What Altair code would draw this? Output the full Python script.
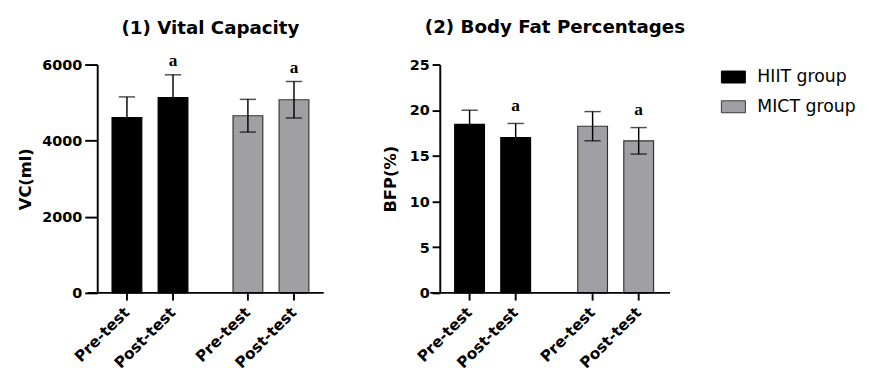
import altair as alt
import pandas as pd

groups = ["HIIT group", "HIIT group", "MICT group", "MICT group"]
tests = ["Pre-test", "Post-test", "Pre-test", "Post-test"]
vc_mean = [4610, 5130, 4655, 5075]
vc_sd = [540, 600, 430, 480]
bfp_mean = [18.45, 17.0, 18.25, 16.65]
bfp_sd = [1.55, 1.55, 1.6, 1.45]
sig = ["", "a", "", "a"]

group_order = ["HIIT group", "MICT group"]
test_order = ["Pre-test", "Post-test"]
fill_colors = ["#000000", "#a0a0a4"]
stroke_colors = ["#000000", "#333333"]

H = 238


def panel(mean, sd, title, ytitle, ymax, yticks, width, title_pad, tick_size, a_dy, t_off):
    df = pd.DataFrame({"group": groups, "test": tests, "mean": mean, "sd": sd, "sig": sig})
    df["lo"] = df["mean"] - df["sd"]
    df["hi"] = df["mean"] + df["sd"]
    base = alt.Chart(df)
    xenc = alt.X("group:N", sort=group_order,
                 scale=alt.Scale(paddingInner=0.238, paddingOuter=0.055), axis=None)
    xoff = alt.XOffset("test:N", sort=test_order,
                       scale=alt.Scale(paddingInner=0.354, paddingOuter=0.177))
    yscale = alt.Scale(domain=[0, ymax], nice=False)

    bars = base.mark_bar(strokeWidth=1.2).encode(
        x=xenc, xOffset=xoff,
        y=alt.Y("mean:Q", scale=yscale,
                axis=alt.Axis(title=ytitle, values=yticks, titlePadding=title_pad,
                              format="d", tickSize=tick_size)),
        color=alt.Color("group:N", scale=alt.Scale(domain=group_order, range=fill_colors),
                        legend=alt.Legend(title=None)),
        stroke=alt.Stroke("group:N", scale=alt.Scale(domain=group_order, range=stroke_colors),
                          legend=None),
    )
    err = base.mark_rule(color="#000000", strokeWidth=1.5).encode(
        x=xenc, xOffset=xoff, y="lo:Q", y2="hi:Q")
    cap_hi = base.mark_tick(orient="horizontal", size=17, thickness=1.5, color="#000000").encode(
        x=xenc, xOffset=xoff, y="hi:Q")
    cap_lo = base.mark_tick(orient="horizontal", size=17, thickness=1.5, color="#000000").encode(
        x=xenc, xOffset=xoff, y="lo:Q")
    sig_txt = base.mark_text(font="Liberation Serif", fontWeight="bold", fontSize=18,
                             baseline="alphabetic", dy=a_dy, color="black").encode(
        x=xenc, xOffset=xoff, y="hi:Q", text="sig:N")
    xticks = base.mark_rule(color="black", strokeWidth=2).encode(
        x=xenc, xOffset=xoff, y=alt.value(H), y2=alt.value(H + 8))
    xlabels = base.mark_text(angle=315, align="right", baseline="middle", fontSize=16,
                             fontWeight="bold", font="DejaVu Sans", color="black").encode(
        x=xenc, xOffset=xoff, y=alt.value(H + 18), text="test:N")
    xline = alt.Chart(pd.DataFrame({"v": [0]})).mark_rule(color="black", strokeWidth=2).encode(
        x=alt.value(-10), x2=alt.value(width), y=alt.value(H))

    return alt.layer(bars, err, cap_hi, cap_lo, sig_txt, xticks, xlabels, xline).properties(
        width=width, height=H,
        title=alt.TitleParams(title, fontSize=19, font="DejaVu Sans", fontWeight="bold",
                              anchor="middle", frame="group", offset=t_off, color="black"),
    )


p1 = panel(vc_mean, vc_sd, "(1) Vital Capacity", "VC(ml)", 6000, [0, 2000, 4000, 6000],
           236, 8, 13, -9, 15.5)
p2 = panel(bfp_mean, bfp_sd, "(2) Body Fat Percentages", "BFP(%)", 25, [0, 5, 10, 15, 20, 25],
           240, 10, 8, -13, 21.5)

chart = alt.hconcat(p1, p2, spacing=60).properties(
    padding={"left": 9, "top": 3, "right": 5, "bottom": 5}
).configure_view(stroke=None).configure_axis(
    grid=False, domainColor="black", domainWidth=2, tickColor="black", tickWidth=2,
    labelFont="DejaVu Sans", labelFontSize=15, labelFontWeight="bold",
    labelColor="black", titleFont="DejaVu Sans", titleFontSize=17, titleFontWeight="bold",
    titleColor="black", labelPadding=3,
).configure_legend(
    orient="right", labelFont="DejaVu Sans", labelFontSize=18, labelColor="black",
    symbolType="M-1,-0.5H1V0.5H-1Z", symbolSize=625, symbolStrokeColor="#333333",
    symbolStrokeWidth=1, symbolOpacity=1, labelOffset=12, rowPadding=9, offset=37,
)

chart.save("out.html", embed_options={"renderer": "svg", "actions": False})
